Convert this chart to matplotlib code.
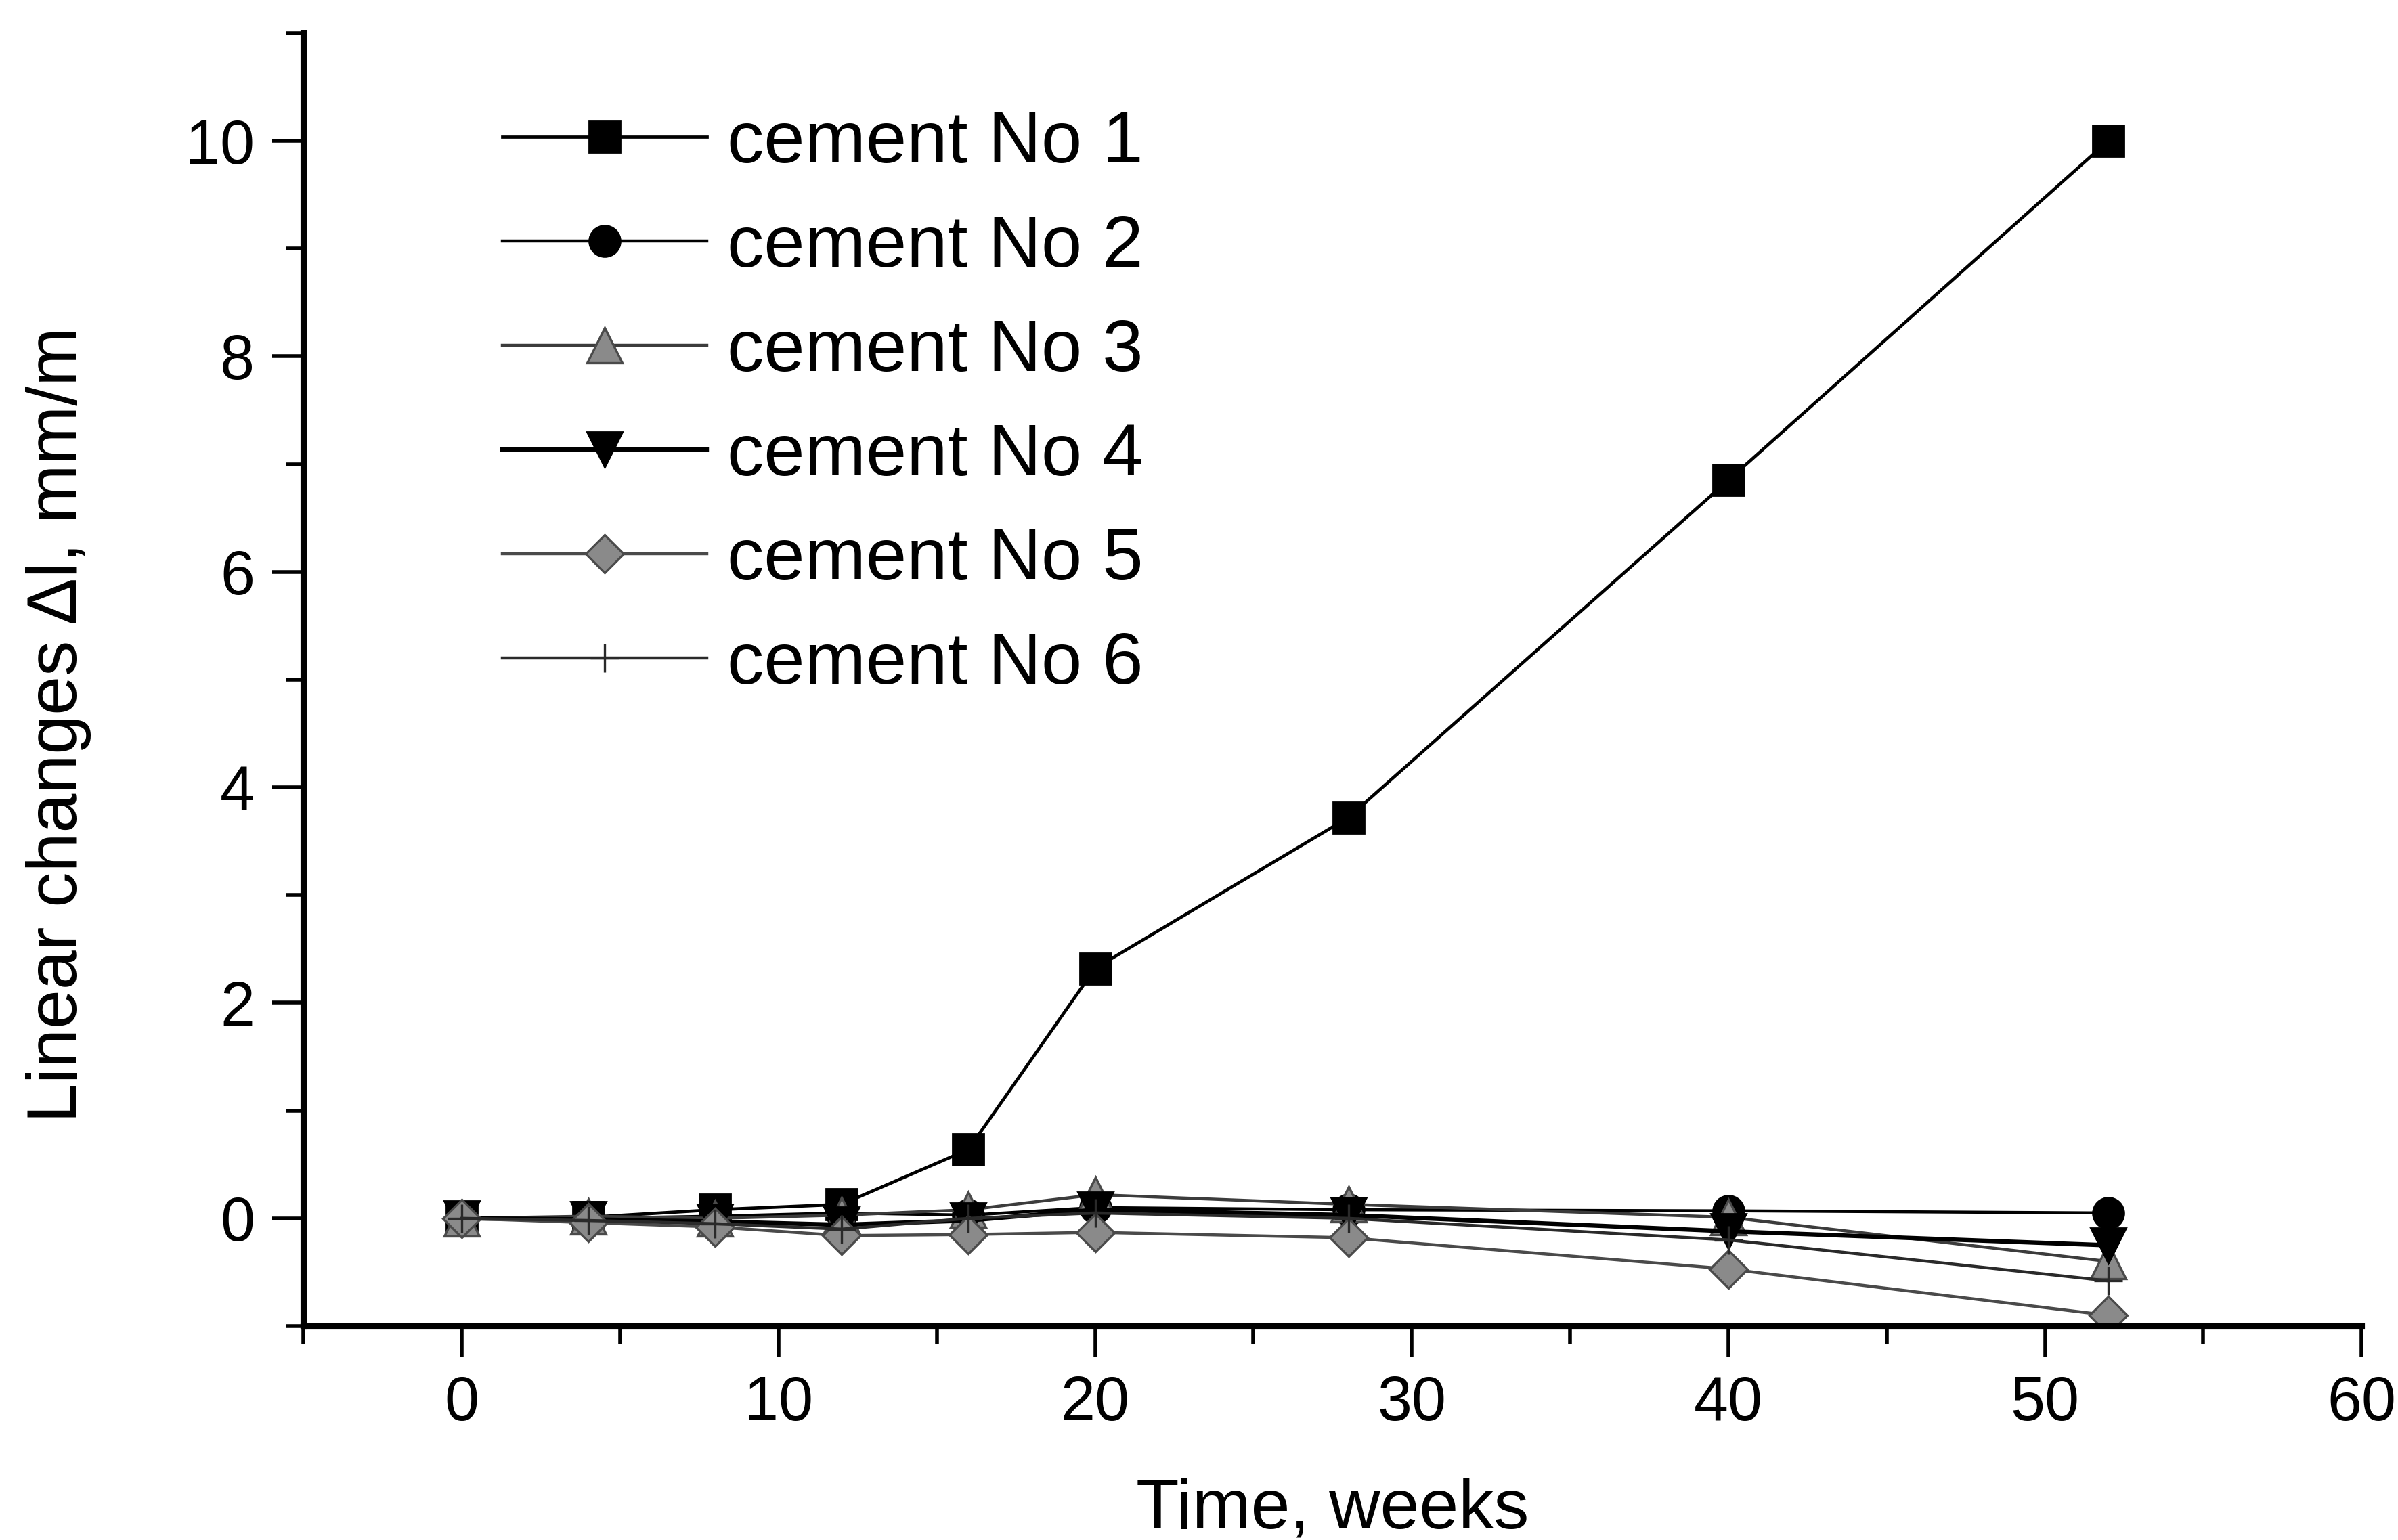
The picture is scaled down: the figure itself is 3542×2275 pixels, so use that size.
import matplotlib
matplotlib.use("Agg")
import matplotlib.pyplot as plt
from matplotlib.ticker import MultipleLocator

plt.rcParams["font.family"] = ["Liberation Sans", "DejaVu Sans"]

# expansion measurements, mm/m
weeks = [0, 4, 8, 12, 16, 20, 28, 40, 52]
cement1 = [0, 0.01, 0.08, 0.13, 0.64, 2.32, 3.72, 6.85, 10.0]
cement2 = [0, 0.0, 0.02, 0.05, 0.03, 0.10, 0.08, 0.07, 0.05]
cement3 = [0, 0.02, 0.0, 0.03, 0.08, 0.22, 0.13, 0.01, -0.40]
cement4 = [0, -0.01, -0.03, -0.06, -0.02, 0.08, 0.03, -0.12, -0.25]
cement5 = [0, -0.04, -0.08, -0.16, -0.15, -0.13, -0.18, -0.47, -0.90]
cement6 = [0, -0.02, -0.05, -0.10, 0.0, 0.05, 0.0, -0.20, -0.58]
labels = ["cement No 1", "cement No 2", "cement No 3",
          "cement No 4", "cement No 5", "cement No 6"]

fig = plt.figure(figsize=(17.71, 11.375), dpi=200)
ax = fig.add_axes([0.1266, 0.1389, 0.8582, 0.8396])

ax.plot(weeks, cement1, "-s", color="black", lw=1.7, ms=16.5, label=labels[0])
ax.plot(weeks, cement2, "-o", color="black", lw=1.6, ms=16.5, label=labels[1])
ax.plot(weeks, cement3, "-^", color="#3c3c3c", lw=1.6, ms=19,
        mfc="#8a8a8a", mec="#4a4a4a", mew=1.2, label=labels[2])
ax.plot(weeks, cement4, "-v", color="black", lw=2.3, ms=19, label=labels[3])
ax.plot(weeks, cement5, "-D", color="#4a4a4a", lw=1.6, ms=14.5,
        mfc="#8a8a8a", mec="#4a4a4a", mew=1.2, label=labels[4])
ax.plot(weeks, cement6, "-+", color="#2a2a2a", lw=1.6, ms=15, mew=1.2,
        label=labels[5])

ax.set_xlim(-5, 60)
ax.set_ylim(-1, 11)
ax.xaxis.set_major_locator(MultipleLocator(10))
ax.xaxis.set_minor_locator(MultipleLocator(5))
ax.yaxis.set_major_locator(MultipleLocator(2))
ax.yaxis.set_minor_locator(MultipleLocator(1))

for side in ["top", "right"]:
    ax.spines[side].set_visible(False)
for side in ["left", "bottom"]:
    ax.spines[side].set_linewidth(3.3)

ax.tick_params(which="major", direction="out", length=16.5, width=2,
               labelsize=33, pad=9.5)
ax.tick_params(which="minor", direction="out", length=9.4, width=2)

ax.set_xlabel("Time, weeks", fontsize=37.5)
ax.set_ylabel("Linear changes \u0394l, mm/m", fontsize=37.5)
ax.xaxis.label.set_va("baseline")
ax.xaxis.set_label_coords(0.5, -0.1565)
ax.yaxis.set_label_coords(-0.103, 0.465)

ax.legend(loc="upper left", bbox_to_anchor=(0.2095, 0.929),
          bbox_transform=fig.transFigure, frameon=False, fontsize=39,
          borderpad=0, borderaxespad=0, numpoints=1, handlelength=2.79,
          handletextpad=0.27, labelspacing=0.5)

fig.savefig("out.png", dpi=200)
